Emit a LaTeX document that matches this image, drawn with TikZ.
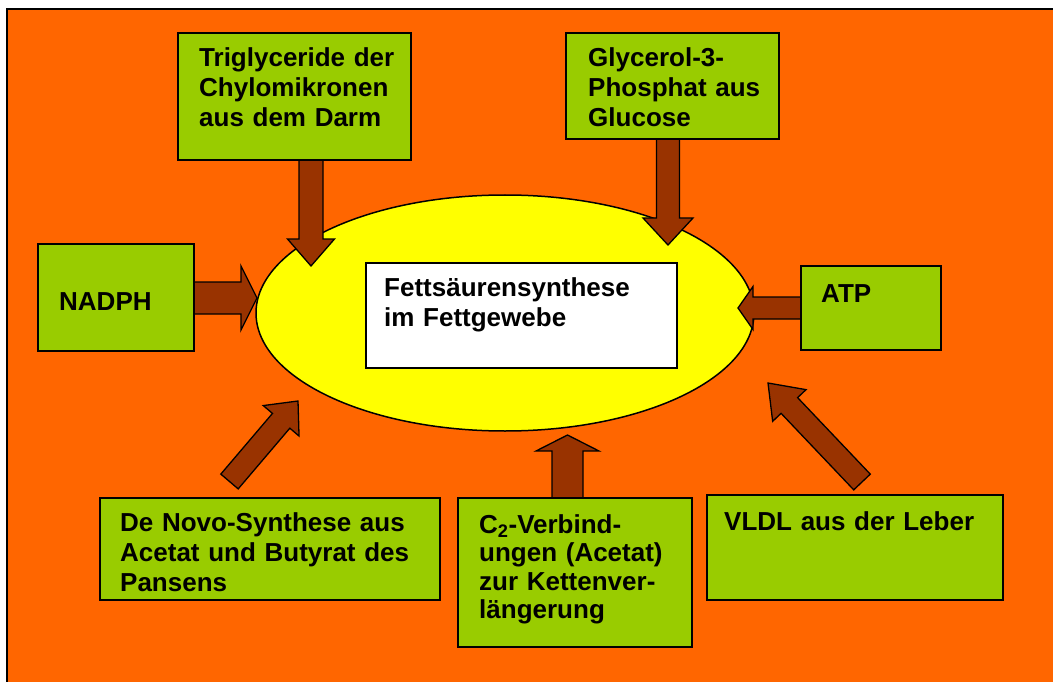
\documentclass[tikz,border=0pt]{standalone}
\usepackage{fontspec}
\setmainfont{Liberation Sans}
\usetikzlibrary{calc,shapes.geometric}

\definecolor{bgorange}{RGB}{255,102,0}
\definecolor{boxgreen}{RGB}{153,204,0}
\definecolor{arrbrown}{RGB}{153,51,0}
\definecolor{coreyellow}{RGB}{255,255,0}

\tikzset{
  box/.style={draw=black, line width=1.5pt, fill=boxgreen, anchor=north west,
    inner sep=0pt, outer sep=0pt},
  lbl/.style={font=\bfseries\fontsize{26}{30}\selectfont, anchor=base west,
    inner sep=0pt, align=left, text width=320pt},
  blockarr/.style={draw=black, line width=1.3pt, fill=arrbrown, line join=miter},
}

% block arrow: #1 tail, #2 tip, #3 half shaft width, #4 half head width, #5 head length
\newcommand{\blockarrow}[5]{%
  \coordinate (ba-h) at ($(#2)!#5!(#1)$);
  \draw[blockarr] ($(#1)!#3!90:(#2)$) -- ($(ba-h)!#3!-90:(#1)$)
    -- ($(ba-h)!#4!-90:(#1)$) -- (#2) -- ($(ba-h)!#4!90:(#1)$)
    -- ($(ba-h)!#3!90:(#1)$) -- ($(#1)!#3!-90:(#2)$) -- cycle;
}

\begin{document}
\begin{tikzpicture}[x=1pt,y=-1pt]
  \clip (0,0) rectangle (1053,682);
  \fill[white] (0,0) rectangle (1053,682);
  % orange panel
  \draw[line width=1.5pt, fill=bgorange] (7,9) rectangle (1070,700);

  % central ellipse with the title box
  \node[draw=black, line width=1.5pt, fill=coreyellow, ellipse, inner sep=0pt,
    minimum width=498pt, minimum height=236pt] (core) at (505,313) {};
  \node[draw=black, line width=1.5pt, fill=white, anchor=north west, inner sep=0pt,
    minimum width=311pt, minimum height=105pt] (title) at (365,262) {};
  \node[lbl] (titletxt) at (384,296) {Fettsäurensynthese\\im Fettgewebe};

  % arrow end points
  \coordinate (t1) at (311,160);  \coordinate (p1) at (311,266);
  \coordinate (t2) at (668,139);  \coordinate (p2) at (668,245);
  \coordinate (t3) at (194,298);  \coordinate (p3) at (257,298);
  \coordinate (t4) at (801,308);  \coordinate (p4) at (738,308);
  \coordinate (t5) at (229.5,481.5); \coordinate (p5) at (298,401);
  \coordinate (t6) at (567.5,498); \coordinate (p6) at (567.5,435);
  \coordinate (t7) at (862,482);  \coordinate (p7) at (768,383);

  \blockarrow{t1}{p1}{12pt}{23.5pt}{27pt}
  \blockarrow{t2}{p2}{11.5pt}{25pt}{27pt}
  \blockarrow{t3}{p3}{16pt}{32pt}{16pt}
  \blockarrow{t4}{p4}{11pt}{21.5pt}{15pt}
  \blockarrow{t5}{p5}{11.4pt}{23.5pt}{26pt}
  \blockarrow{t6}{p6}{15.5pt}{31.5pt}{16pt}
  \blockarrow{t7}{p7}{11.4pt}{23pt}{31pt}

  % source boxes
  \node[box, minimum width=233pt, minimum height=127pt] (trig) at (178,33) {};
  \node[lbl] (trigtxt) at (199,67) {Triglyceride der\\Chylomikronen\\aus dem Darm};

  \node[box, minimum width=213pt, minimum height=106pt] (glyc) at (566,33) {};
  \node[lbl] (glyctxt) at (588,67) {Glycerol-3-\\Phosphat aus\\Glucose};

  \node[box, minimum width=156pt, minimum height=107pt] (nadph) at (38,244) {};
  \node[lbl] (nadphtxt) at (59,310) {NADPH};

  \node[box, minimum width=140pt, minimum height=84pt] (atp) at (801,266) {};
  \node[lbl] (atptxt) at (821,302) {ATP};

  \node[box, minimum width=340pt, minimum height=102pt] (novo) at (100,498) {};
  \node[lbl] (novotxt) at (120,531) {De Novo-Synthese aus\\Acetat und Butyrat des\\Pansens};

  \node[box, minimum width=234pt, minimum height=149pt] (ctwo) at (458,498) {};
  \node[lbl, font=\bfseries\fontsize{26}{28.6}\selectfont] (ctwotxt) at (479,533)
    {C\textsubscript{2}-Verbind-\\ungen (Acetat)\\zur Kettenver-\\längerung};

  \node[box, minimum width=296pt, minimum height=105pt] (vldl) at (707,495) {};
  \node[lbl] (vldltxt) at (724,530) {VLDL aus der Leber};
\end{tikzpicture}
\end{document}
